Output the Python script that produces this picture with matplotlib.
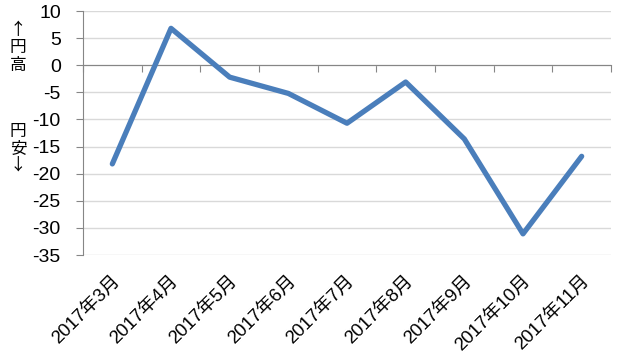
import matplotlib.pyplot as plt
import matplotlib.transforms as mtransforms

months = ['2017年3月', '2017年4月', '2017年5月', '2017年6月', '2017年7月',
          '2017年8月', '2017年9月', '2017年10月', '2017年11月']
values = [-18.2, 6.8, -2.2, -5.2, -10.7, -3.1, -13.6, -31.1, -16.8]
y_ticks = list(range(-35, 11, 5))

plt.rcParams['font.family'] = ['Liberation Sans', 'Noto Sans CJK JP', 'DejaVu Sans']

fig = plt.figure(figsize=(6.22, 3.64), dpi=100)
ax = fig.add_axes([83 / 622, 1 - 255 / 364, 528 / 622, 244 / 364])

x = list(range(len(months)))
ax.plot(x, values, color='#4A7EBB', linewidth=3.8,
        solid_joinstyle='round', solid_capstyle='round', zorder=3)

ax.set_xlim(-0.5, len(months) - 0.5)
ax.set_ylim(-35, 10)
ax.set_yticks(y_ticks)
ax.set_yticklabels([str(v) for v in y_ticks], fontsize=14)
ax.yaxis.grid(True, color='#D9D9D9', linewidth=1)
ax.set_axisbelow(True)

for s in ['top', 'right']:
    ax.spines[s].set_visible(False)
ax.spines['left'].set_color('#868686')
ax.spines['bottom'].set_color('#868686')
ax.spines['bottom'].set_position(('data', 0))
ax.spines['bottom'].set_zorder(2)

ax.tick_params(axis='y', direction='out', length=5, color='#868686', pad=11)
ax.set_xticks([i - 0.5 for i in range(len(months) + 1)])
ax.set_xticklabels([])
ax.tick_params(axis='x', direction='out', length=5, color='#868686')

# month labels along the bottom edge
trans = mtransforms.blended_transform_factory(ax.transData, ax.transAxes)
for i, m in enumerate(months):
    ax.text(i - 0.02, -0.072, m, transform=trans, rotation=45,
            rotation_mode='anchor', ha='right', va='top', fontsize=13.3)

fig.text(0.029, 0.94, '↑\n円\n高', fontsize=12, family=['Noto Sans CJK JP'],
         ha='center', va='top', linespacing=1.05)
fig.text(0.029, 0.663, '円\n安\n↓', fontsize=12, family=['Noto Sans CJK JP'],
         ha='center', va='top', linespacing=1.0)

fig.savefig('out.png', dpi=100)
